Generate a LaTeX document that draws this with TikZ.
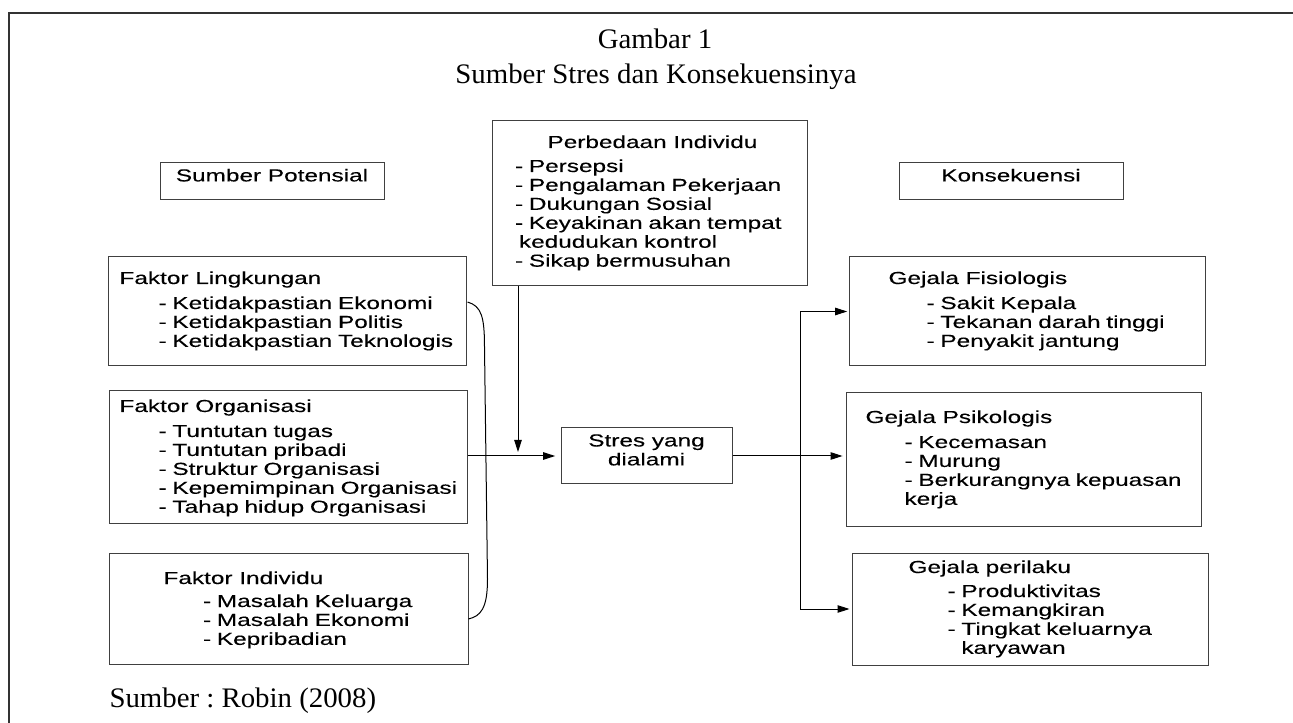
\documentclass[tikz,border=0pt]{standalone}
\usepackage{fontspec}
\setmainfont{Liberation Serif}
\newfontfamily\boxfont[FakeStretch=1.40,FakeBold=0.2]{Liberation Sans}
\newfontfamily\judulfont[FakeStretch=1.02]{Liberation Serif}
\usetikzlibrary{positioning,calc,fit,arrows.meta}
\tikzset{kotak/.style={draw=black!75, line width=0.75pt, inner sep=0pt}}
\tikzset{
	isi/.style={font=\boxfont\fontsize{13.05}{14.2}\selectfont, inner sep=0pt, text=black},
	daftar/.style={isi, align=left, text width=12cm, anchor=base west},
	judul/.style={font=\judulfont\fontsize{21.2}{24}\selectfont, inner sep=0pt}
}
\newcommand{\indenkata}{\hphantom{-\ }}
\frenchspacing

\begin{document}
\begin{tikzpicture}[>={Triangle[length=9pt,width=5.6pt]}, x=0.75pt, y=-0.75pt,
					line width=0.75pt]
					\useasboundingbox (0,0) rectangle (1293,723);
					\draw[line width=1.5pt, black!80] (9,723) -- (9,13) -- (1293,13);
					% judul gambar
					\node[judul, anchor=base] at (655,49) (gambar) {Gambar 1};
					\node[judul, anchor=base] at (656,84) (subjudul) {Sumber Stres dan Konsekuensinya};
					\node[judul, anchor=base west] at (109,707) (sumberpustaka) {Sumber : Robin (2008)};
					% kotak kepala kolom
					\node[kotak, isi, fit={(160,163) (384,200)}] (potensial) {Sumber Potensial};
					\node[kotak, isi, fit={(899,163) (1123,200)}] (konsekuensi) {Konsekuensi};
					% perbedaan individu
					\node[kotak, fit={(492,121) (807,286)}] (perbedaan) {};
					\node[isi, anchor=base west] at (547,148) (perbedaanT) {Perbedaan Individu};
					\node[daftar] at (514.5,172) (perbedaanL) {- Persepsi\\- Pengalaman Pekerjaan\\- Dukungan Sosial\\- Keyakinan akan tempat\\\hspace*{3pt}kedudukan kontrol\\- Sikap bermusuhan};
					% sumber potensial
					\node[kotak, fit={(108,257) (466,366)}] (lingkungan) {};
					\node[isi, anchor=base west] at (119,284) (lingkunganT) {Faktor Lingkungan};
					\node[daftar] at (158,309) (lingkunganL) {- Ketidakpastian Ekonomi\\- Ketidakpastian Politis\\- Ketidakpastian Teknologis};
					\node[kotak, fit={(109,391) (467,524)}] (organisasi) {};
					\node[isi, anchor=base west] at (119,412) (organisasiT) {Faktor Organisasi};
					\node[daftar] at (158,437) (organisasiL) {- Tuntutan tugas\\- Tuntutan pribadi\\- Struktur Organisasi\\- Kepemimpinan Organisasi\\- Tahap hidup Organisasi};
					\node[kotak, fit={(109,553) (468,664)}] (individu) {};
					\node[isi, anchor=base west] at (163,584) (individuT) {Faktor Individu};
					\node[daftar] at (202.5,607) (individuL) {- Masalah Keluarga\\- Masalah Ekonomi\\- Kepribadian};
					% stres
					\node[kotak, isi, align=center, fit={(561,428) (732,484)}] (stres) {Stres yang\\dialami};
					% konsekuensi
					\node[kotak, fit={(849,257) (1205,366)}] (fisiologis) {};
					\node[isi, anchor=base west] at (888,284) (fisiologisT) {Gejala Fisiologis};
					\node[daftar] at (926,309) (fisiologisL) {- Sakit Kepala\\- Tekanan darah tinggi\\- Penyakit jantung};
					\node[kotak, fit={(846,393) (1201,527)}] (psikologis) {};
					\node[isi, anchor=base west] at (865,423) (psikologisT) {Gejala Psikologis};
					\node[daftar] at (904,448) (psikologisL) {- Kecemasan\\- Murung\\- Berkurangnya kepuasan\\kerja};
					\node[kotak, fit={(852,553) (1208,665)}] (perilaku) {};
					\node[isi, anchor=base west] at (908,573) (perilakuT) {Gejala perilaku};
					\node[daftar] at (947,597) (perilakuL) {- Produktivitas\\- Kemangkiran\\- Tingkat keluarnya\\\indenkata karyawan};
					% penghubung
					\coordinate (kurungA) at ($(lingkungan.east)+(1,-9.5)$);
					\coordinate (kurungB) at ($(individu.east)+(0,10.5)$);
					\draw (kurungA) .. controls +(14,4) and +(0,-30) .. ($(kurungA)+(17,45)$)
						-- ($(kurungB)+(19,-40)$) .. controls +(0,30) and +(12,-3) .. (kurungB);
					\coordinate (gabung) at (518,452);
					\draw[->] (perbedaan.south west -| gabung) -- (gabung);
					\draw[->, shorten >=4pt] (organisasi.east |- stres.west) -- (stres.west);
					\draw[->, shorten >=2.2pt] (stres.east) -- (stres.east -| psikologis.west);
					\coordinate (cabang) at (800,456);
					\draw[->, shorten >=1pt] (cabang) |- (fisiologis.west);
					\draw[->, shorten >=1.5pt] (cabang) |- (perilaku.west);
				\end{tikzpicture}
\end{document}
